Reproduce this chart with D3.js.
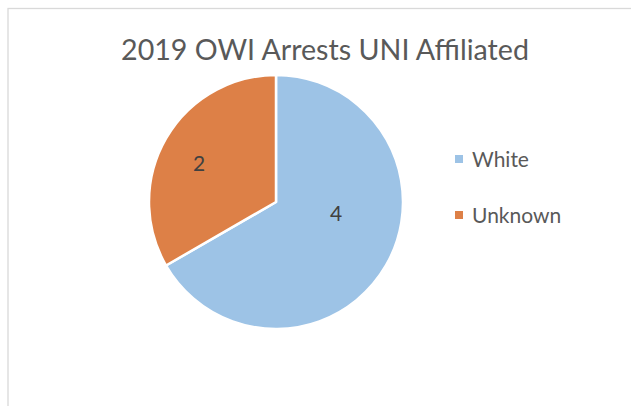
<!DOCTYPE html>
<html>
<head>
<meta charset="utf-8">
<script src="https://cdn.jsdelivr.net/npm/d3@7"></script>
<style>
  html, body { margin: 0; padding: 0; background: #fff; }
  svg { display: block; }
  text { font-family: Lato, "Open Sans", sans-serif; fill: #595959; }
</style>
</head>
<body>
<svg id="chart" width="631" height="406"></svg>
<script>
const title = "2019 OWI Arrests UNI Affiliated";
const categories = ["White", "Unknown"];
const values = [4, 2];
const colors = ["#9DC3E6", "#DD8047"];

const svg = d3.select("#chart");

// chart border
svg.append("rect")
  .attr("x", 8).attr("y", 8.5)
  .attr("width", 640).attr("height", 420)
  .attr("fill", "#fff")
  .attr("stroke", "#D9D9D9").attr("stroke-width", 1.3);

// title
const t = svg.append("text")
  .attr("x", 325).attr("y", 60)
  .attr("text-anchor", "middle")
  .style("font-size", "27px")
  .text(title);
const tw = t.node().getComputedTextLength();
t.style("font-size", (27 * 408 / tw) + "px");

const cx = 276, cy = 202, r = 127;
const data = categories.map((c, i) => ({ cat: c, value: values[i], color: colors[i] }));

const pie = d3.pie().value(d => d.value).sort(null);
const arc = d3.arc().innerRadius(0).outerRadius(r);
const arcs = pie(data);

const g = svg.append("g").attr("transform", `translate(${cx},${cy})`);
g.selectAll("path")
  .data(arcs)
  .join("path")
  .attr("d", arc)
  .attr("fill", d => d.data.color)
  .attr("stroke", "#fff")
  .attr("stroke-width", 2.5)
  .attr("stroke-linejoin", "round");

// label placement (best-fit style offsets from the centroid)
const labelArc = d3.arc().innerRadius(r * 0.6).outerRadius(r * 0.6);
const labelShift = [[-6, -27], [-11, 0]];
g.selectAll("text.lbl")
  .data(arcs)
  .join("text")
  .attr("class", "lbl")
  .attr("transform", (d, i) => {
    const [x, y] = labelArc.centroid(d);
    return `translate(${x + labelShift[i][0]},${y + labelShift[i][1]})`;
  })
  .attr("text-anchor", "middle")
  .attr("dy", "0.36em")
  .style("font-size", "21px")
  .style("fill", "#404040")
  .text(d => d.data.value);

// legend
const legend = svg.append("g");
const items = legend.selectAll("g")
  .data(data)
  .join("g")
  .attr("transform", (d, i) => `translate(455, ${159 + i * 56})`);
items.append("rect")
  .attr("x", 0).attr("y", -4)
  .attr("width", 8).attr("height", 8)
  .attr("fill", d => d.color);
items.append("text")
  .attr("x", 17).attr("y", 7.5)
  .style("font-size", "21px")
  .text(d => d.cat);
</script>
</body>
</html>
